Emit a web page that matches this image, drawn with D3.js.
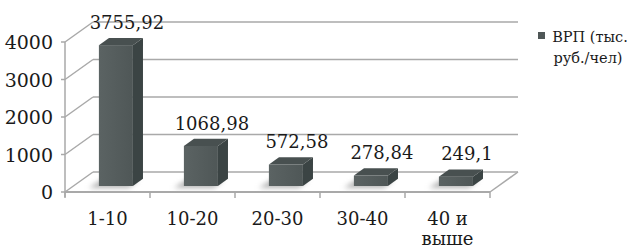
<!DOCTYPE html>
<html>
<head>
<meta charset="UTF-8" />
<style>
    body { margin: 0; background: #fff; }
    .grid line { stroke: #a9a9a9; stroke-width: 1.5; }
    .tick-label { font-size: 19px; text-anchor: end; }
    .cat-label { font-size: 18px; text-anchor: middle; }
    .val-label { font-size: 18px; text-anchor: middle; }
    .legend text { font-size: 14.5px; text-anchor: middle; }
</style>
<script src="https://d3js.org/d3.v7.min.js"></script>
</head>
<body>
<svg width="643" height="248"></svg>
<script>
    // data
    var categories = ["1-10", "10-20", "20-30", "30-40", "40 и выше"];
    var values = [3755.92, 1068.98, 572.58, 278.84, 249.1];
    var valueLabels = ["3755,92", "1068,98", "572,58", "278,84", "249,1"];
    var yTicks = [0, 1000, 2000, 3000, 4000];
    var seriesName = ["ВРП (тыс.", "руб./чел)"];

    var svg = d3.select("svg")
        .attr("font-family", "'DejaVu Serif', 'Liberation Serif', serif")
        .attr("fill", "#1a1a1a");

    // 3d box: depth offset of the back wall
    var depthX = 28, depthY = -20;
    var x0 = 65, x1 = 490;

    var x = d3.scaleBand().domain(categories).range([x0, x1])
              .paddingInner(0.6).paddingOuter(0.3);
    var y = d3.scaleLinear().domain([0, 4000]).range([192, 42]);

    // depth of bar front within floor (fraction) and bar thickness
    var barT = 0.3, barDepth = 0.36;

    var defs = svg.append("defs");
    var grad = defs.append("linearGradient").attr("id", "front");
    grad.append("stop").attr("offset", "0%").attr("stop-color", "#5b6363");
    grad.append("stop").attr("offset", "100%").attr("stop-color", "#4f5757");
    defs.append("filter").attr("id", "blur")
        .attr("x", "-50%").attr("y", "-50%").attr("width", "200%").attr("height", "200%")
        .append("feGaussianBlur").attr("stdDeviation", 2.5);

    var grid = svg.append("g").attr("class", "grid");

    // back wall gridlines
    grid.selectAll(".back").data(yTicks).enter().append("line")
        .attr("x1", x0 + depthX).attr("x2", x1 + depthX)
        .attr("y1", function(d) { return y(d) + depthY; })
        .attr("y2", function(d) { return y(d) + depthY; });

    // side wall gridlines
    grid.selectAll(".side").data(yTicks).enter().append("line")
        .attr("x1", x0).attr("x2", x0 + depthX)
        .attr("y1", function(d) { return y(d); })
        .attr("y2", function(d) { return y(d) + depthY; });

    // floor front and right edge
    grid.append("line").attr("x1", x0).attr("x2", x1)
        .attr("y1", y(0)).attr("y2", y(0)).style("stroke-width", 2);
    grid.append("line").attr("x1", x1).attr("x2", x1 + depthX)
        .attr("y1", y(0)).attr("y2", y(0) + depthY);

    // front vertical axis + ticks
    grid.append("line").attr("x1", x0).attr("x2", x0)
        .attr("y1", y(4000)).attr("y2", y(0) + 5);
    grid.selectAll(".ytick").data(yTicks).enter().append("line")
        .attr("x1", x0 - 4).attr("x2", x0)
        .attr("y1", function(d) { return y(d); })
        .attr("y2", function(d) { return y(d); });

    var bounds = categories.map(function(c) { return x(c) - x.step() * x.paddingInner() / 2; });
    bounds.push(x1);
    grid.selectAll(".xtick").data(bounds).enter().append("line")
        .attr("x1", function(d) { return d; }).attr("x2", function(d) { return d; })
        .attr("y1", y(0)).attr("y2", y(0) + 6);

    svg.selectAll(".tick-label").data(yTicks).enter().append("text")
        .attr("class", "tick-label")
        .attr("x", x0 - 12)
        .attr("y", function(d) { return y(d) + 7; })
        .text(function(d) { return d; });

    // bars
    var bars = svg.selectAll(".bar").data(values).enter().append("g").attr("class", "bar");
    var bw = x.bandwidth();
    var ox = depthX * barT, oy = depthY * barT;
    var dx = depthX * barDepth, dy = depthY * barDepth;

    function left(i) { return x(categories[i]) + ox; }

    // shadow on floor
    bars.append("path")
        .attr("d", function(d, i) {
            var l = left(i) - 10, b = y(0) + oy + 2;
            return "M" + l + "," + b + "L" + (l + bw + 6) + "," + b +
                   "L" + (l + bw + 16) + "," + (b - 8) + "L" + (l + 12) + "," + (b - 8) + "Z";
        })
        .attr("fill", "#b5b5b5").attr("filter", "url(#blur)");

    bars.append("rect")
        .attr("x", function(d, i) { return left(i); })
        .attr("y", function(d) { return y(d) + oy; })
        .attr("width", bw)
        .attr("height", function(d) { return y(0) - y(d); })
        .attr("fill", "url(#front)");

    bars.append("path")
        .attr("d", function(d, i) {
            var r = left(i) + bw, t = y(d) + oy, b = y(0) + oy;
            return "M" + r + "," + t + "L" + (r + dx) + "," + (t + dy) +
                   "L" + (r + dx) + "," + (b + dy) + "L" + r + "," + b + "Z";
        })
        .attr("fill", "#3b4444");

    bars.append("path")
        .attr("d", function(d, i) {
            var l = left(i), t = y(d) + oy;
            return "M" + l + "," + t + "L" + (l + bw) + "," + t +
                   "L" + (l + bw + dx) + "," + (t + dy) + "L" + (l + dx) + "," + (t + dy) + "Z";
        })
        .attr("fill", "#485050");

    // value labels
    svg.selectAll(".val-label").data(values).enter().append("text")
        .attr("class", "val-label")
        .attr("x", function(d, i) { return left(i) + bw / 2 + 11; })
        .attr("y", function(d) { return y(d) + oy + dy - 9; })
        .text(function(d, i) { return valueLabels[i]; });

    // category labels
    var cat = svg.selectAll(".cat-label").data(categories).enter().append("text")
        .attr("class", "cat-label")
        .attr("x", function(d) { return x(d) + bw / 2; })
        .attr("y", 225);
    cat.each(function(d) {
        var words = d === "40 и выше" ? ["40 и", "выше"] : [d];
        var t = d3.select(this);
        words.forEach(function(w, k) {
            t.append("tspan").attr("x", t.attr("x")).attr("dy", k ? 20 : 0).text(w);
        });
    });

    // legend
    var lg = svg.append("g").attr("class", "legend");
    lg.append("rect").attr("x", 538).attr("y", 32).attr("width", 7).attr("height", 7)
      .attr("fill", "#4f5757");
    lg.append("text").attr("x", 590).attr("y", 42).text(seriesName[0]);
    lg.append("text").attr("x", 588).attr("y", 63).text(seriesName[1]);
</script>
</body>
</html>
